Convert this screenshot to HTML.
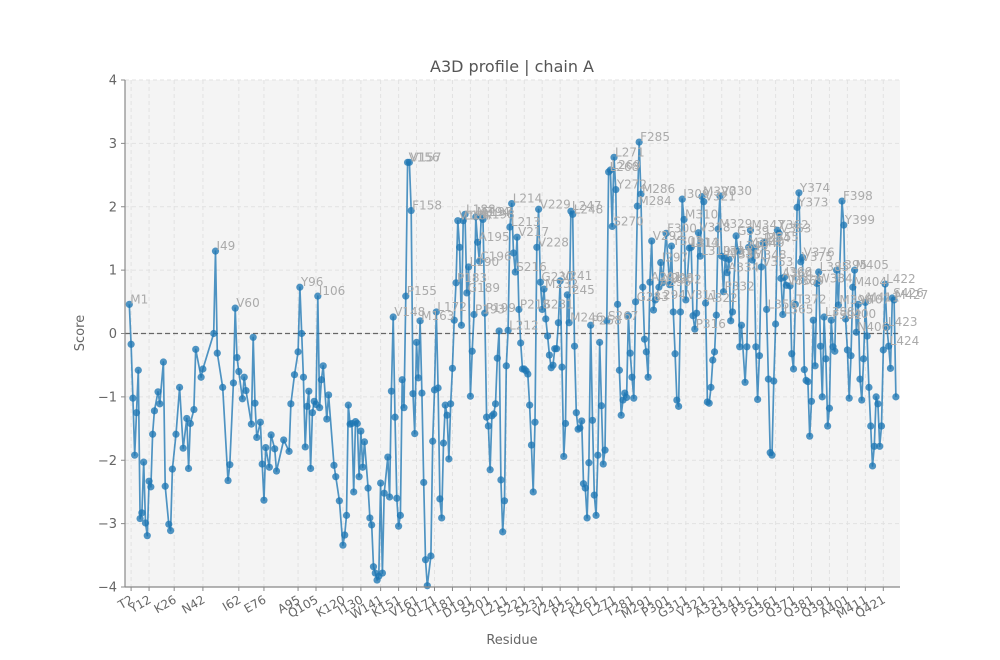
<!DOCTYPE html>
<html><head><meta charset="utf-8"><style>
html,body{margin:0;padding:0;background:#fff;}
svg{display:block;font-family:"DejaVu Sans","Liberation Sans",sans-serif;}
</style></head><body>
<svg id="chart" width="1000" height="660" viewBox="0 0 1000 660">
<rect x="0" y="0" width="1000" height="660" fill="#ffffff"/>
<rect x="125" y="80" width="775" height="507" fill="#f4f4f4"/>
<g id="grid"></g>
<line x1="125" y1="333.5" x2="900" y2="333.5" stroke="#666" stroke-width="1.3" stroke-dasharray="5,3"/>
<g id="series"></g>
<g id="annots"></g>
<line x1="125" y1="80" x2="125" y2="587" stroke="#888" stroke-width="1.2"/>
<line x1="125" y1="587" x2="900" y2="587" stroke="#888" stroke-width="1.2"/>
<g id="yticks"></g>
<g id="xticks"></g>
<text x="512" y="72" text-anchor="middle" font-size="16" fill="#555">A3D profile | chain A</text>
<text x="512" y="644" text-anchor="middle" font-size="13" fill="#666">Residue</text>
<text x="84" y="333" text-anchor="middle" font-size="13" fill="#666" transform="rotate(-90 84 333)">Score</text>
</svg>
<script>
const residues = [1,2,3,4,5,6,7,8,9,10,11,12,13,14,15,17,18,20,21,23,24,25,27,29,31,33,34,35,37,38,41,42,48,49,50,53,56,57,59,60,61,62,64,65,66,69,70,71,72,74,75,76,77,79,80,82,83,87,90,91,93,95,96,97,98,99,100,101,102,103,104,105,106,107,108,109,111,112,115,116,118,120,121,122,123,124,125,126,127,128,129,130,131,132,134,135,136,137,138,139,140,141,142,143,145,146,147,148,149,150,151,152,153,154,155,156,157,158,159,160,161,162,163,164,165,166,167,169,170,171,172,173,174,175,176,177,178,179,180,181,182,183,184,185,186,187,188,189,190,191,192,193,194,195,196,197,198,199,200,201,202,203,204,205,206,207,208,209,210,211,212,213,214,215,216,217,218,219,220,221,222,223,224,225,226,227,228,229,230,231,232,233,234,235,236,237,238,239,240,241,242,243,244,245,246,247,248,249,250,251,252,253,254,255,256,257,258,259,260,261,262,263,264,265,266,267,268,269,270,271,272,273,274,275,276,277,278,279,280,281,282,283,284,285,286,287,288,289,290,291,292,293,294,296,297,298,300,302,303,304,305,306,307,308,309,310,311,313,314,315,316,317,318,319,320,321,322,323,324,325,326,327,328,329,330,331,332,333,334,335,336,337,339,340,341,342,344,345,346,347,348,349,350,351,352,353,354,355,356,357,358,359,360,361,362,363,364,365,366,367,369,370,371,372,373,374,375,376,377,378,379,380,381,382,383,384,385,386,387,388,389,390,391,392,393,394,395,396,398,399,400,401,402,403,404,405,406,407,408,409,410,411,412,413,414,415,416,417,418,419,420,421,422,423,424,425,426,427,428];
const scores = [0.46,-0.17,-1.02,-1.92,-1.25,-0.58,-2.92,-2.83,-2.03,-2.99,-3.19,-2.33,-2.42,-1.59,-1.22,-0.92,-1.11,-0.45,-2.41,-3.01,-3.11,-2.14,-1.59,-0.85,-1.81,-1.34,-2.13,-1.42,-1.2,-0.25,-0.69,-0.56,0,1.3,-0.31,-0.85,-2.32,-2.07,-0.78,0.4,-0.38,-0.6,-1.03,-0.69,-0.9,-1.43,-0.06,-1.1,-1.64,-1.4,-2.06,-2.63,-1.8,-2.11,-1.6,-1.82,-2.17,-1.68,-1.86,-1.11,-0.65,-0.29,0.73,0,-0.69,-1.79,-1.15,-0.91,-2.13,-1.25,-1.07,-1.12,0.59,-1.17,-0.73,-0.51,-1.35,-0.97,-2.08,-2.26,-2.64,-3.34,-3.18,-2.87,-1.13,-1.43,-1.42,-2.5,-1.39,-1.42,-2.26,-1.54,-2.11,-1.71,-2.44,-2.91,-3.02,-3.68,-3.78,-3.89,-3.83,-2.36,-3.78,-2.52,-1.95,-2.58,-0.91,0.26,-1.32,-2.6,-3.04,-2.87,-0.73,-1.17,0.59,2.7,2.7,1.94,-0.95,-1.58,-0.14,-0.7,0.2,-0.94,-2.35,-3.57,-3.98,-3.51,-1.7,-0.89,0.34,-0.86,-2.61,-2.91,-1.73,-1.13,-1.29,-1.98,-1.11,-0.55,0.21,0.8,1.78,1.36,0.13,1.78,1.88,0.64,1.05,-0.99,-0.28,0.3,1.84,1.44,1.14,1.84,1.8,0.32,-1.32,-1.46,-2.15,-1.3,-1.27,-1.11,-0.39,0.04,-2.31,-3.13,-2.64,-0.51,0.05,1.68,2.05,1.27,0.97,1.52,0.38,-0.15,-0.56,-0.56,-0.59,-0.64,-1.13,-1.76,-2.5,-1.4,1.36,1.96,0.81,0.38,0.7,0.23,-0.04,-0.34,-0.54,-0.5,-0.24,-0.24,0.17,0.83,-0.53,-1.94,-1.42,0.61,0.17,1.93,1.88,-0.2,-1.25,-1.51,-1.49,-1.38,-2.37,-2.44,-2.91,-2.04,0.13,-1.37,-2.55,-2.87,-1.92,-0.14,-1.14,-2.06,-1.84,0.2,2.55,2.58,1.69,2.78,2.27,0.46,-0.58,-1.29,-1.05,-0.94,-1.01,0.28,-0.31,-0.69,-1.02,0.5,2.01,3.02,2.2,0.73,-0.09,-0.29,-0.69,0.81,1.46,0.37,0.53,0.73,1.12,0.8,1.58,0.77,1.38,0.34,-0.32,-1.05,-1.15,0.34,2.12,1.8,0.53,1.35,1.36,0.28,0.07,0.32,1.59,1.22,2.16,2.08,0.48,-1.08,-1.1,-0.85,-0.42,-0.29,0.29,1.65,2.17,1.22,0.66,1.19,0.96,1.17,0.2,0.34,1.54,1.3,-0.21,0.13,-0.77,-0.21,1.36,1.63,1.16,1.35,-0.21,-1.04,-0.35,1.05,1.43,1.44,0.38,-0.72,-1.88,-1.92,-0.75,0.15,1.63,1.58,0.87,0.3,0.89,0.76,0.75,-0.32,-0.56,0.46,1.99,2.22,1.13,1.2,-0.57,-0.74,-0.76,-1.62,-1.07,0.21,-0.51,0.79,0.97,-0.2,-1.0,0.26,-0.4,-1.46,-1.18,0.21,-0.21,-0.28,1.0,0.45,2.09,1.71,0.23,-0.26,-1.02,-0.35,0.73,1.0,0.02,0.46,-0.72,-1.05,-0.4,0.49,-0.04,-0.85,-1.46,-2.09,-1.78,-1.0,-1.11,-1.78,-1.46,-0.26,0.78,0.1,-0.2,-0.55,0.56,0.53,-1.0];
const labelResidues = [1,49,60,96,106,148,155,156,157,158,163,172,183,184,187,188,189,190,193,194,195,196,197,198,199,212,213,214,216,217,218,228,229,230,231,232,241,245,246,247,248,258,267,268,269,270,271,272,283,284,285,286,291,292,294,296,297,298,300,302,303,309,310,311,313,314,316,318,319,320,321,322,329,330,331,332,333,334,335,339,340,346,347,348,349,353,354,355,356,362,363,364,365,366,367,369,372,373,374,375,376,384,385,388,392,395,396,398,399,400,404,405,406,407,411,422,423,424,426,427];
const labelNames = ["M1","I49","V60","Y96","I106","V148","P155","V156","V157","F158","M163","L172","P183","V184","L187","L188","G189","L190","P193","M194","A195","C196","E197","K198","P199","L212","L213","L214","S216","V217","P218","V228","V229","G230","S231","M232","V241","I245","M246","L247","L248","P258","S267","L268","L269","S270","L271","Y272","G283","M284","F285","M286","A291","V292","L294","A296","I297","Y298","F300","V302","Y303","I309","M310","V311","L313","I314","P316","V318","L319","M320","V321","A322","M329","V330","L331","P332","I333","A334","V335","G339","L340","Y346","M347","M348","L349","V353","I354","M355","L356","Y362","V363","A364","L365","I366","V367","M369","T372","Y373","Y374","V375","V376","W384","L385","L388","F392","L395","M396","F398","Y399","L400","M404","M405","N406","V407","M411","L422","L423","L424","S426","M427"];
const tickResidues = [2,12,26,42,62,76,95,105,120,130,141,151,161,171,181,191,201,211,221,231,241,251,261,271,281,291,301,311,321,331,341,351,361,371,381,391,401,411,421];
const tickNames = ["T2","Y12","K26","N42","I62","E76","A95","Q105","K120","I130","W141","K151","V161","Q171","T181","D191","S201","L211","S221","S231","V241","P251","K261","L271","T281","M291","P301","G311","V321","A331","G341","P351","G361","Q371","Q381","Q391","A401","M411","Q421"];
const yTicks = [-4,-3,-2,-1,0,1,2,3,4];

const NS = "http://www.w3.org/2000/svg";
const X0 = 125, X1 = 900, Y0 = 80, Y1 = 587;
const xDom = [-1.4, 430.3], yDom = [-4, 4];
function xs(r){ return X0 + (r - xDom[0]) / (xDom[1] - xDom[0]) * (X1 - X0); }
function ys(v){ return Y1 - (v - yDom[0]) / (yDom[1] - yDom[0]) * (Y1 - Y0); }
function mk(tag, attrs, parent){ const e = document.createElementNS(NS, tag); for (const k in attrs) e.setAttribute(k, attrs[k]); parent.appendChild(e); return e; }

const grid = document.getElementById('grid');
const yt = document.getElementById('yticks');
yTicks.forEach(v => {
  const y = ys(v);
  const gl = mk('line', {x1:X0, x2:X1, y1:y, y2:y, stroke:'#e2e2e2', 'stroke-width':1, 'stroke-dasharray':'4,3'}, grid);
  
  
  const tk = mk('line', {x1:X0-4, x2:X0, y1:y, y2:y, stroke:'#888', 'stroke-width':1}, yt);
  
  
  const t = mk('text', {x:X0-8, y:y+4.5, 'text-anchor':'end', 'font-size':13, fill:'#666'}, yt);
  t.textContent = v < 0 ? '\u2212' + Math.abs(v) : String(v);
  
  
});
const xt = document.getElementById('xticks');
tickResidues.forEach((r, i) => {
  const x = xs(r);
  const gl = mk('line', {x1:x, x2:x, y1:Y0, y2:Y1, stroke:'#e2e2e2', 'stroke-width':1, 'stroke-dasharray':'4,3'}, grid);
  
  
  const tk = mk('line', {x1:x, x2:x, y1:Y1, y2:Y1+4, stroke:'#888', 'stroke-width':1}, xt);
  
  
  const t = mk('text', {x:x+3, y:Y1+15, 'text-anchor':'end', 'font-size':12, fill:'#666', transform:'rotate(-30 '+(x+3)+' '+(Y1+15)+')'}, xt);
  t.textContent = tickNames[i];
  
  
});

const series = document.getElementById('series');
const pts = residues.map((r, i) => xs(r).toFixed(1) + ',' + ys(scores[i]).toFixed(1)).join(' ');
const pl = mk('polyline', {points:pts, fill:'none', stroke:'#1f77b4', 'stroke-opacity':0.78, 'stroke-width':1.7, 'stroke-linejoin':'round'}, series);


residues.forEach((r, i) => {
  const c = mk('circle', {cx:xs(r), cy:ys(scores[i]), r:3.6, fill:'#1f77b4', 'fill-opacity':0.78}, series);
  
  
});

const an = document.getElementById('annots');
labelResidues.forEach((r, i) => {
  const idx = residues.indexOf(r);
  if (idx < 0) return;
  const t = mk('text', {x:xs(r)+1, y:ys(scores[idx])-1, 'font-size':12, fill:'#aaaaaa'}, an);
  t.textContent = labelNames[i];
  
  
});
</script>
</body></html>
